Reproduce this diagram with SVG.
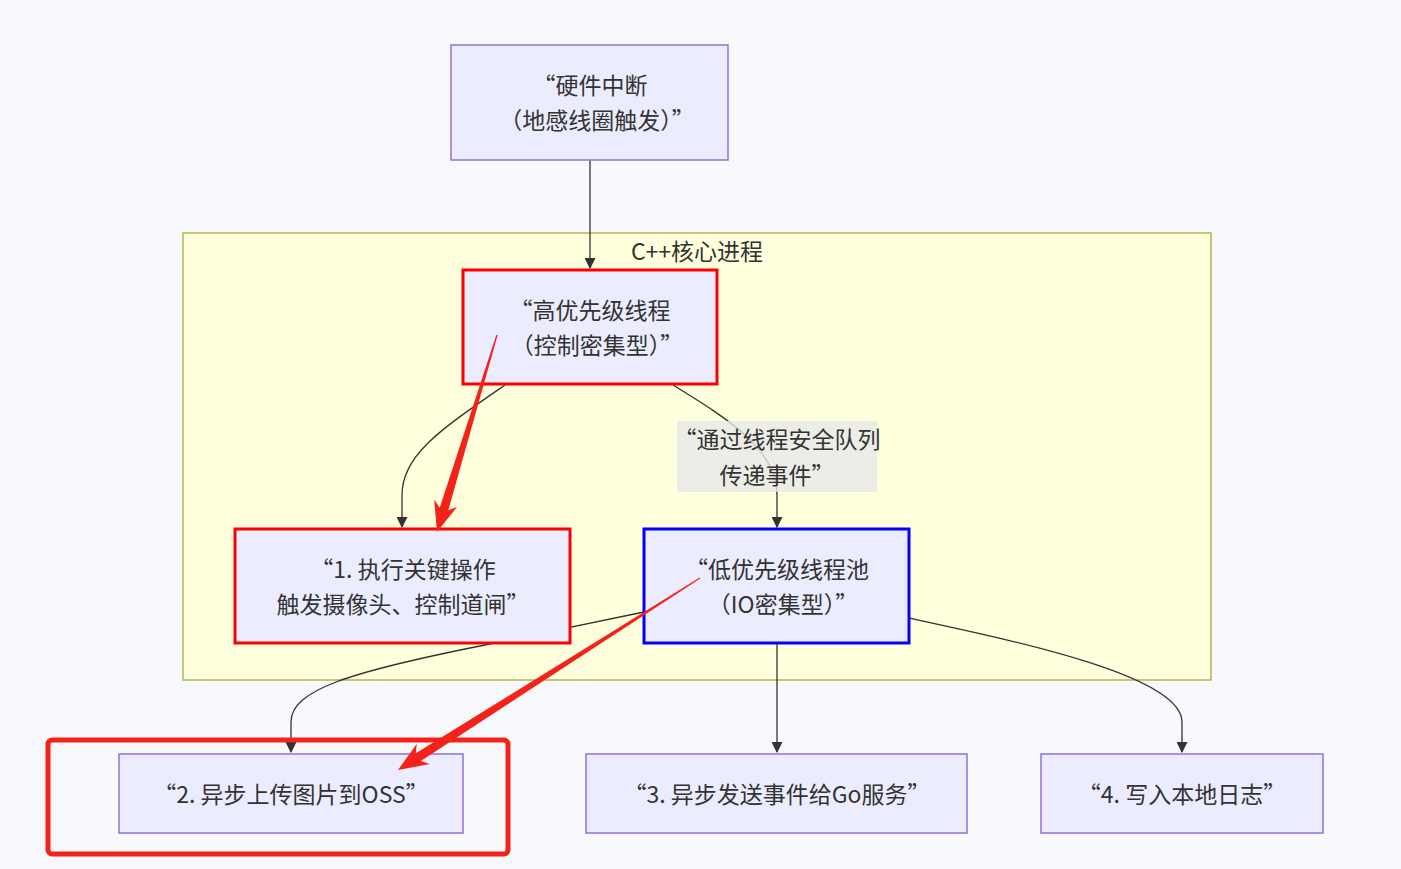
<svg xmlns="http://www.w3.org/2000/svg" width="1401" height="869" viewBox="0 0 1401 869">
<style>
text{font-family:"Noto Sans CJK SC","Noto Sans",sans-serif;font-size:23px;fill:#333;text-anchor:middle;dominant-baseline:central;text-spacing-trim:space-first}
.node{fill:#ECECFF;stroke:#9370DB;stroke-width:1.5}
.red{fill:#ECECFF;stroke:#ff0000;stroke-width:3}
.blue{fill:#ECECFF;stroke:#0000ff;stroke-width:3}
.edge{fill:none;stroke:#333;stroke-width:1.3}
.anno{fill:#f5221a}
</style>
<defs>
<marker id="ah" viewBox="0 0 10 10" refX="9" refY="5" markerWidth="11" markerHeight="11" markerUnits="userSpaceOnUse" orient="auto">
<path d="M0,0 L10,5 L0,10 z" fill="#333"/>
</marker>
</defs>
<rect width="1401" height="869" fill="#f8f9fc"/>
<g id="cluster">
<rect x="183" y="233" width="1028" height="447" fill="#ffffde" stroke="#aaaa33" stroke-width="1.3"/>
<text x="697" y="250">C++核心进程</text>
</g>
<g id="connectors">
<path class="edge" d="M590,160 L590,268" marker-end="url(#ah)"/>
<path class="edge" d="M505,385 C440,430 402,455 402,495 L402,527" marker-end="url(#ah)"/>
<path class="edge" d="M673,385 C730,420 777,450 777,495 L777,527" marker-end="url(#ah)"/>
<path class="edge" d="M644,612 L480,646 C350,672 291,690 291,722 L291,752" marker-end="url(#ah)"/>
<path class="edge" d="M777,643 L777,752" marker-end="url(#ah)"/>
<path class="edge" d="M909,618 C1020,642 1182,676 1182,722 L1182,752" marker-end="url(#ah)"/>
<g id="edge-label">
<rect x="677" y="421" width="200" height="71" fill="#e8e8e8" fill-opacity="0.8"/>
<text x="777" y="438">“通过线程安全队列</text>
<text x="777" y="474">传递事件”</text>
</g>
</g>
<g id="n-hw">
<rect class="node" x="451" y="45" width="277" height="115"/>
<text x="590" y="84">“硬件中断</text>
<text x="597" y="119">（地感线圈触发）”</text>
</g>
<g id="n-high">
<rect class="red" x="463" y="270" width="254" height="114"/>
<text x="590" y="309">“高优先级线程</text>
<text x="597" y="344">（控制密集型）”</text>
</g>
<g id="n-1">
<rect class="red" x="235" y="529" width="335" height="114"/>
<text x="403" y="568">“1. 执行关键操作</text>
<text x="403" y="603">触发摄像头、控制道闸”</text>
</g>
<g id="n-low">
<rect class="blue" x="644" y="529" width="265" height="114"/>
<text x="777" y="568">“低优先级线程池</text>
<text x="783" y="603">（IO密集型）”</text>
</g>
<g id="n-2">
<rect class="node" x="119" y="754" width="344" height="79"/>
<text x="291" y="793">“2. 异步上传图片到OSS”</text>
</g>
<g id="n-3">
<rect class="node" x="586" y="754" width="381" height="79"/>
<text x="777" y="793">“3. 异步发送事件给Go服务”</text>
</g>
<g id="n-4">
<rect class="node" x="1041" y="754" width="282" height="79"/>
<text x="1182" y="793">“4. 写入本地日志”</text>
</g>
<g id="annotations">
<rect x="48" y="740" width="460" height="114" rx="4" fill="none" stroke="#f5221a" stroke-width="5"/>
<polygon class="anno" points="497.6,335.2 448.3,510.3 457.2,506.8 437,532 434.2,499.8 439.7,507.7 496.4,334.8"/>
<polygon class="anno" points="700.3,578.5 420.8,761.0 429.8,764.0 398,770 416.8,743.8 415.8,753.2 699.7,577.5"/>
</g>
</svg>
